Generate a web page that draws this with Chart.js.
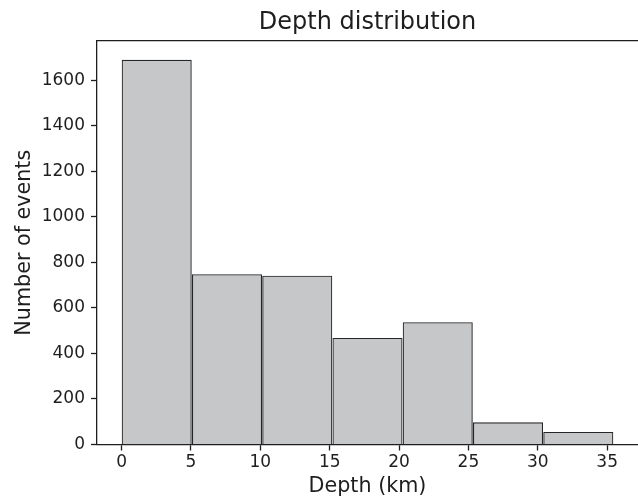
<!DOCTYPE html>
<html>
<head>
<meta charset="utf-8">
<script src="https://cdn.jsdelivr.net/npm/chart.js@4"></script>
<style>
  html, body { margin: 0; padding: 0; background: #fff; }
  #wrap { width: 638px; height: 498px; }
</style>
</head>
<body>
<div id="wrap"><canvas id="histChart" width="638" height="498"></canvas></div>
<script>
// histogram of event depths
var binEdges = [0, 5.064, 10.129, 15.193, 20.257, 25.321, 30.386, 35.45];
var counts = [1689, 747, 740, 467, 536, 96, 54];
var xTicks = [0, 5, 10, 15, 20, 25, 30, 35];
var yTicks = [0, 200, 400, 600, 800, 1000, 1200, 1400, 1600];

document.addEventListener("DOMContentLoaded", function () {
  var ctx = document.getElementById("histChart").getContext("2d");
  var ink = "#1e1e1e";
  var fontFamily = "'DejaVu Sans', sans-serif";

  // one bar per bin, placed at the bin centre
  var points = counts.map(function (c, i) {
    return { x: (binEdges[i] + binEdges[i + 1]) / 2, y: c };
  });

  var data = {
    datasets: [
      {
        label: "Events",
        data: points,
        xAxisID: "x",
        backgroundColor: "rgb(198, 199, 201)",
        borderColor: "#262626",
        borderWidth: 1.1,
        barPercentage: 1.0,
        categoryPercentage: 1.0,
      },
    ],
  };

  var tickGrid = { display: true, offset: false, drawOnChartArea: false, drawTicks: true, tickLength: 6, tickColor: ink, tickWidth: 1.3 };

  var options = {
    responsive: false,
    animation: false,
    layout: { padding: 0 },
    plugins: {
      legend: { display: false },
      tooltip: { enabled: false },
    },
    scales: {
      x: {
        type: "linear",
        offset: false,
        min: -1.7725,
        max: 37.2225,
        grid: tickGrid,
        border: { display: true, color: ink, width: 1.3 },
        afterBuildTicks: function (scale) {
          scale.ticks = xTicks.map(function (v) { return { value: v }; });
        },
        ticks: {
          autoSkip: false,
          color: ink,
          padding: 2,
          maxRotation: 0,
          font: { family: fontFamily, size: 17, lineHeight: 1.2 },
          callback: function (v) { return String(v); },
        },
        title: {
          display: true,
          text: "Depth (km)",
          color: ink,
          font: { family: fontFamily, size: 20.7, lineHeight: 1.0 },
          padding: { top: 0, bottom: 1 },
        },
        afterFit: function (scale) { scale.height = 53.5; },
      },
      // top frame line + chart title, centred over the plot area
      xTop: {
        type: "linear",
        position: "top",
        min: 0,
        max: 1,
        grid: { display: false },
        border: { display: true, color: ink, width: 1.3 },
        ticks: { display: false },
        title: {
          display: true,
          text: "Depth distribution",
          color: ink,
          font: { family: fontFamily, size: 24, lineHeight: 1.2 },
          padding: { top: 8, bottom: 0 },
        },
        afterFit: function (scale) { scale.height = 41; },
      },
      y: {
        type: "linear",
        min: 0,
        max: 1773,
        grid: tickGrid,
        border: { display: true, color: ink, width: 1.3 },
        afterBuildTicks: function (scale) {
          scale.ticks = yTicks.map(function (v) { return { value: v }; });
        },
        ticks: {
          autoSkip: false,
          color: ink,
          padding: 6,
          font: { family: fontFamily, size: 17, lineHeight: 1.2 },
          callback: function (v) { return String(v); },
        },
        title: {
          display: true,
          text: "Number of events",
          color: ink,
          font: { family: fontFamily, size: 20.7, lineHeight: 1.0 },
          padding: { top: 14.4, bottom: 0 },
        },
        afterFit: function (scale) { scale.width = 97; },
      },
    },
  };

  var histChart = new Chart(ctx, {
    type: "bar",
    data: data,
    options: options,
  });
});
</script>
</body>
</html>
